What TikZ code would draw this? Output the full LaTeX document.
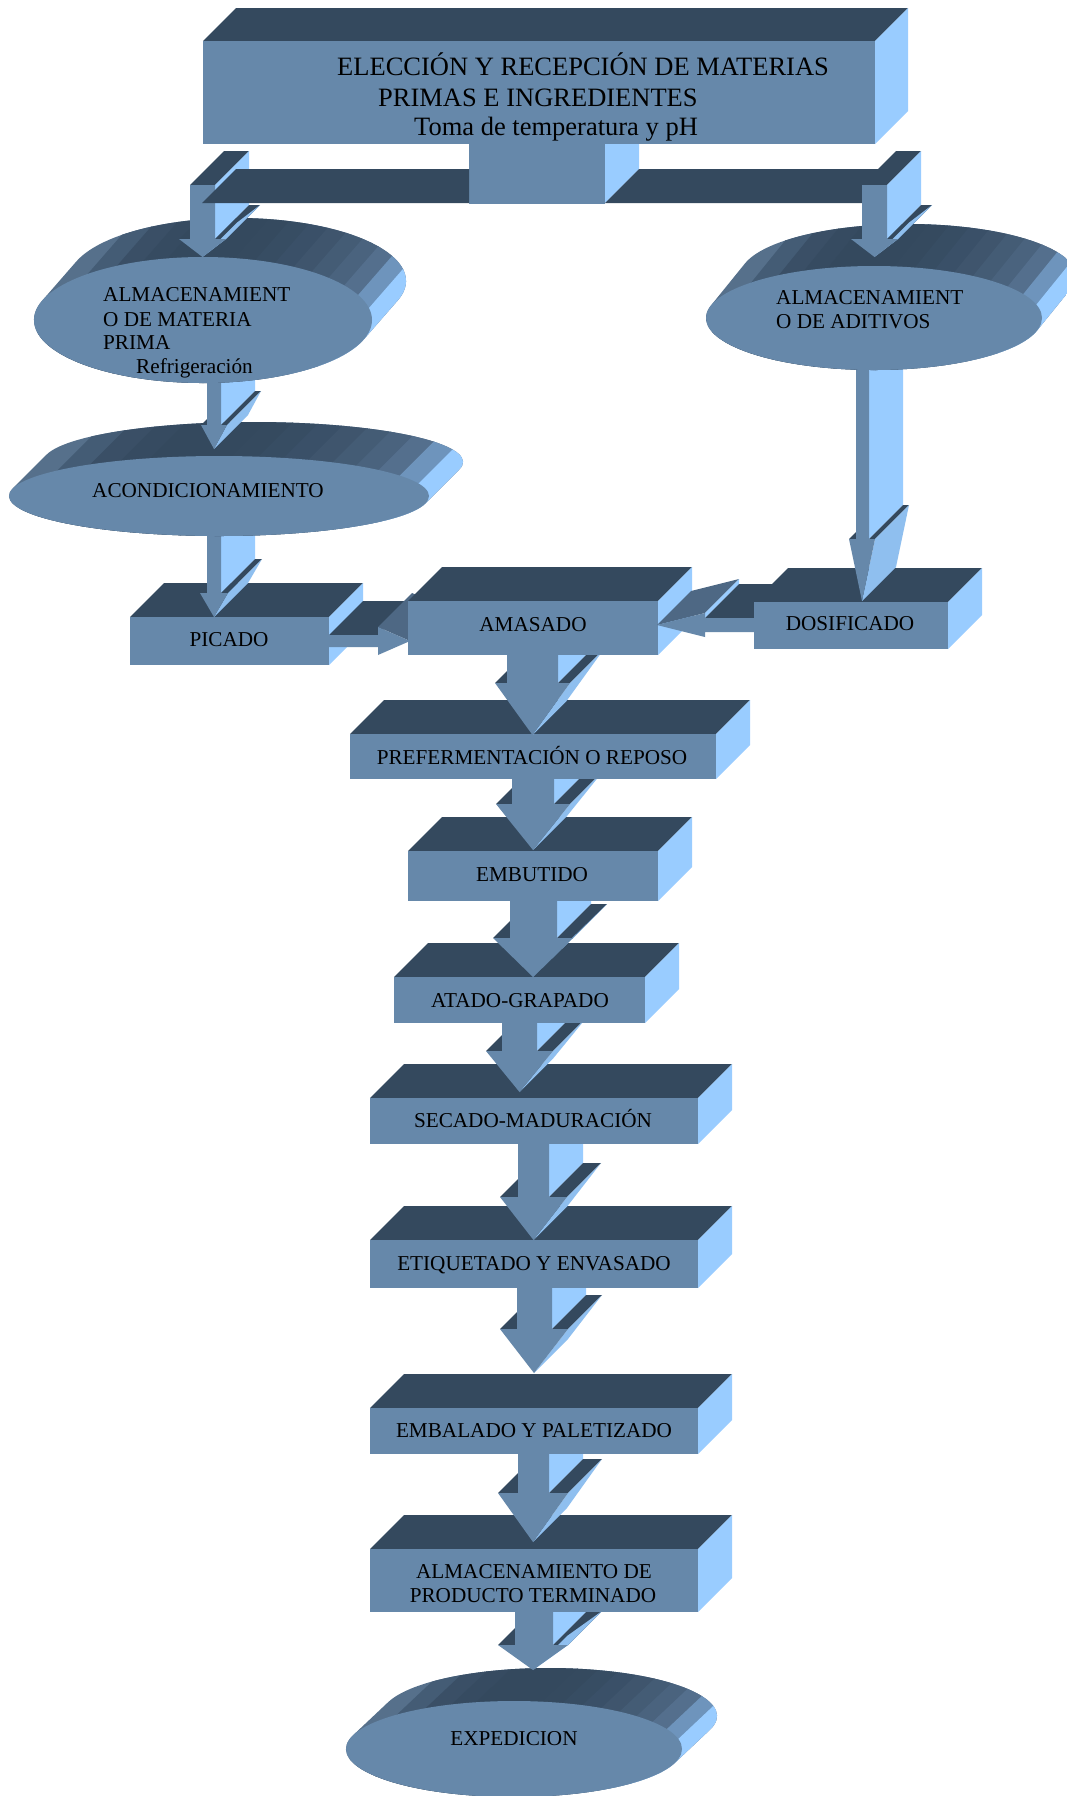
\documentclass[tikz,border=0pt]{standalone}
\usepackage{fontspec}
\setmainfont{Liberation Serif}
\definecolor{frontc}{HTML}{6688AA}
\definecolor{topc}{HTML}{34495E}
\definecolor{sidec}{HTML}{99CCFF}
\definecolor{tipc}{HTML}{8FBFEF}
\definecolor{slatec}{HTML}{4E6884}
\definecolor{cb0}{HTML}{56708B}
\definecolor{cb1}{HTML}{445C75}
\definecolor{cb2}{HTML}{3A4F66}
\definecolor{cb3}{HTML}{364B61}
\definecolor{cb4}{HTML}{34495E}
\definecolor{cb5}{HTML}{34495E}
\definecolor{cb6}{HTML}{34495E}
\definecolor{cb7}{HTML}{354A5F}
\definecolor{cb8}{HTML}{374D63}
\definecolor{cb9}{HTML}{3A5068}
\definecolor{cb10}{HTML}{3F556D}
\definecolor{cb11}{HTML}{445C75}
\definecolor{cb12}{HTML}{4A637E}
\definecolor{cb13}{HTML}{546F8D}
\definecolor{cb14}{HTML}{6E94BC}
\definecolor{cb15}{HTML}{99CCFF}
\tikzset{
  lab/.style={font=\fontsize{21.2}{24}\selectfont, inner sep=0pt, anchor=base, text=black},
  tlab/.style={font=\fontsize{26.5}{30}\selectfont, inner sep=0pt, anchor=base west, text=black}
}
% 3D box: [depth] x1 y1 x2 y2 (front face)
\newcommand{\boxD}[5][34]{%
  \fill[topc] (#2,#3) -- (#4,#3) -- ++(#1,-#1) -- ({#2+#1},{#3-#1}) -- cycle;
  \fill[sidec] (#4,#3) -- ++(#1,-#1) -- ({#4+#1},{#5-#1}) -- (#4,#5) -- cycle;
  \fill[frontc] (#2,#3) rectangle (#4,#5);
}
% 3D down arrow: x1 x2 ytop headleft headright yshoulder ytip
\newcommand{\arrD}[7]{%
  \pgfmathsetmacro\atx{(#4+#5)/2}%
  \fill[topc] (#4,#6) -- (#1,#6) -- ++(34,-34) -- ({#4+34},{#6-34}) -- cycle;
  \fill[topc] (#1,#3) -- (#2,#3) -- ++(34,-34) -- ({#1+34},{#3-34}) -- cycle;
  \fill[sidec] (#2,#3) -- (#2,#6) -- ++(34,-34) -- ({#2+34},{#3-34}) -- cycle;
  \fill[topc] (#2,#6) -- (#5,#6) -- ++(34,-34) -- ({#2+34},{#6-34}) -- cycle;
  \fill[tipc] (#5,#6) -- (\atx,#7) -- ++(34,-34) -- ({#5+34},{#6-34}) -- cycle;
  \fill[frontc] (#1,#3) -- (#2,#3) -- (#2,#6) -- (#5,#6) -- (\atx,#7) -- (#4,#6) -- (#1,#6) -- cycle;
}
% 3D cylinder (extruded ellipse): cx cy rx ry V W
\newcommand{\cylD}[6]{%
  \pgfmathsetmacro\cta{atan((#4*#5)/(#3*#6))}%
  \pgfmathsetmacro\ctb{\cta+180}%
  \pgfmathsetmacro\ctc{\cta+360}%
  \pgfmathsetmacro\cR{#3*cos(\cta)+#4*sin(\cta)*#5/#6}%
  \pgfmathsetmacro\cw{\cR/8}%
  \pgfmathsetmacro\caa{(#4+8)*#5/#6}%
  \pgfmathsetmacro\cbb{(#4+#6+8)*#5/#6}%
  \pgfmathsetmacro\cylo{#2+#4+8}%
  \pgfmathsetmacro\cyh{#2-#4-#6-8}%
  \begin{scope}
    \clip ({#1+#3*cos(\ctb)},{#2+#4*sin(\ctb)}) -- ++(#5,-#6)
      arc[start angle=\ctb, end angle=\ctc, x radius=#3, y radius=#4]
      -- ({#1+#3*cos(\cta)},{#2+#4*sin(\cta)})
      arc[start angle=\cta, end angle=\ctb, x radius=#3, y radius=#4] -- cycle;
    \fill[fill=cb0] ({#1-#3-80},{#2-#4-#6-20}) rectangle ({#1+#3+80},{#2+#4+20});
    \foreach \i in {1,...,15}{%
      \pgfmathsetmacro\xo{#1-\cR+\i*\cw}%
      \pgfmathsetmacro\bwd{\i==15 ? \cw+80 : \cw+1}%
      \fill[fill=cb\i] ({\xo-\caa},\cylo) -- ++(\bwd,0) -- ({\xo+\bwd+\cbb},\cyh) -- ({\xo+\cbb},\cyh) -- cycle;
    }
  \end{scope}
  \fill[frontc] (#1,#2) ellipse [x radius=#3, y radius=#4];
}
\begin{document}
\begin{tikzpicture}[x=1pt,y=-1pt]
\fill[white] (0,0) rectangle (1066,1796);
\useasboundingbox (0,0) rectangle (1066,1796);

% ---- central column, drawn bottom-up ----
\cylD{514}{1749}{168}{48}{35}{33}
\arrD{515}{553}{1600}{498}{568}{1645}{1670}
\boxD{370}{1549}{698}{1612}
\arrD{518}{549}{1445}{498}{568}{1493}{1542}
\boxD{370}{1408}{698}{1454}
\arrD{517}{552}{1275}{500}{568}{1329}{1373}
\boxD{370}{1240}{698}{1288}
\arrD{518}{549}{1130}{500}{567}{1197}{1240}
\boxD{370}{1098}{698}{1144}
\arrD{502}{537}{1010}{486}{553}{1051}{1092}
\boxD{394}{977}{645}{1023}
\arrD{510}{557}{890}{493}{573}{938}{977}
\boxD{408}{851}{658}{901}
\arrD{512}{554}{765}{496}{570}{804}{850}
\boxD{350}{734}{716}{779}
\arrD{507}{558}{640}{495}{570}{683}{735}

% ---- PICADO and its arrows ----
\boxD{130}{617}{329}{665}
\arrD{207}{221}{520}{200}{228}{593}{617}
% PICADO -> AMASADO
\fill[topc] (329,635) -- (378,635) -- ++(34,-34) -- (363,601) -- cycle;
\fill[slatec] (378,627) -- (410,641) -- ++(34,-34) -- (412,593) -- cycle;
\fill[frontc] (329,635) -- (378,635) -- (378,627) -- (410,641) -- (378,655) -- (378,647) -- (329,647) -- cycle;

% ---- AMASADO ----
\boxD{408}{601}{658}{655}
% DOSIFICADO -> AMASADO
\fill[slatec] (657,625) -- (705,613) -- ++(34,-34) -- (691,591) -- cycle;
\fill[sidec] (705,613) -- (705,618) -- ++(34,-34) -- (739,579) -- cycle;
\fill[topc] (705,618) -- (758,618) -- ++(34,-34) -- (739,584) -- cycle;
\fill[frontc] (657,625) -- (705,613) -- (705,618) -- (758,618) -- (758,632) -- (705,632) -- (705,637) -- cycle;

% ---- DOSIFICADO ----
\boxD{754}{602}{948}{649}
\arrD{856}{869}{360}{849}{875}{539}{601}

% ---- right cylinder ----
\cylD{874}{318}{168}{52}{34}{42}

% ---- ACONDICIONAMIENTO ----
\cylD{219}{496}{210}{40}{34}{34}
\arrD{207}{221}{370}{201}{227}{425}{449}

% ---- left cylinder ----
\cylD{203}{320}{169}{63}{34}{39}
\arrD{190}{215}{185}{179}{226}{239}{257}

% ---- stem and bar ----
\fill[sidec] (605,120) -- (639,110) -- (639,169) -- (605,203) -- cycle;
\fill[frontc] (469,140) rectangle (605,204);
\fill[topc] (202,203) -- (469,203) -- (469,169) -- (236,169) -- cycle;
\fill[topc] (605,203) -- (639,169) -- (892,169) -- (862,203) -- cycle;
\arrD{862}{887}{185}{851}{898}{239}{257}

% ---- top box ----
\boxD[33]{203}{41}{875}{144}

% ---- texts ----
\node[tlab] (t1) at (337,75) {ELECCIÓN Y RECEPCIÓN DE MATERIAS};
\node[tlab] (t2) at (378,106) {PRIMAS E INGREDIENTES};
\node[tlab] (t3) at (414,135) {Toma de temperatura y pH};

\node[lab, anchor=base west] (m1) at (103,301) {ALMACENAMIENT};
\node[lab, anchor=base west] (m2) at (103,326) {O DE MATERIA};
\node[lab, anchor=base west] (m3) at (103,349) {PRIMA};
\node[lab, anchor=base west] (m4) at (136,373) {Refrigeración};

\node[lab, anchor=base west] (a1) at (776,304) {ALMACENAMIENT};
\node[lab, anchor=base west] (a2) at (776,328) {O DE ADITIVOS};

\node[lab, anchor=base west] (acond) at (92,497) {ACONDICIONAMIENTO};
\node[lab] (picado) at (229,646) {PICADO};
\node[lab] (amasado) at (533,631) {AMASADO};
\node[lab] (dosif) at (850,630) {DOSIFICADO};
\node[lab] (pref) at (532,764) {PREFERMENTACIÓN O REPOSO};
\node[lab] (embut) at (532,881) {EMBUTIDO};
\node[lab] (atado) at (520,1007) {ATADO-GRAPADO};
\node[lab] (secado) at (533,1127) {SECADO-MADURACIÓN};
\node[lab] (etiq) at (534,1270) {ETIQUETADO Y ENVASADO};
\node[lab] (embal) at (534,1437) {EMBALADO Y PALETIZADO};
\node[lab] (alm1) at (534,1578) {ALMACENAMIENTO DE};
\node[lab] (alm2) at (533,1602) {PRODUCTO TERMINADO};
\node[lab] (exped) at (514,1745) {EXPEDICION};
\end{tikzpicture}
\end{document}
